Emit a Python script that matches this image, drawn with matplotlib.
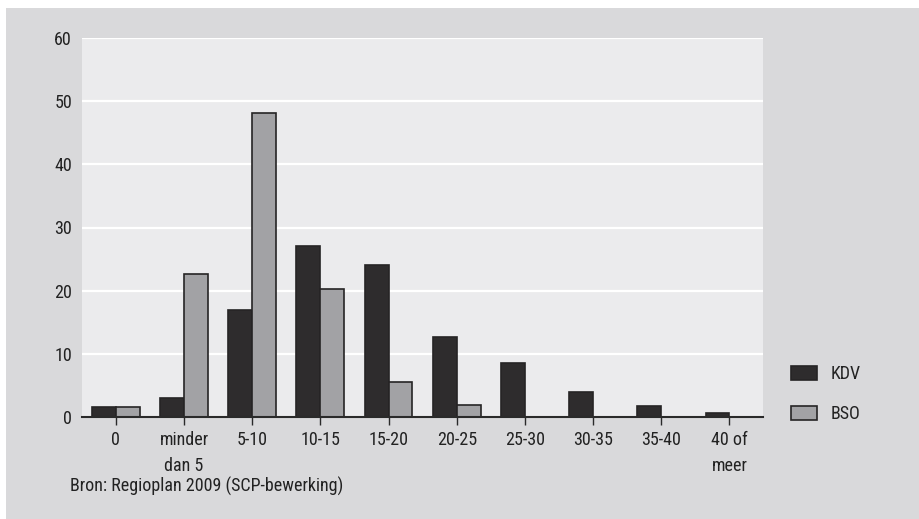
import matplotlib
matplotlib.use("Agg")
import matplotlib.pyplot as plt
from matplotlib.patches import Rectangle
import numpy as np

categories = ["0", "minder\ndan 5", "5-10", "10-15", "15-20", "20-25",
              "25-30", "30-35", "35-40", "40 of\nmeer"]
kdv = [1.6, 3.0, 16.9, 27.0, 24.0, 12.7, 8.5, 3.9, 1.7, 0.6]
bso = [1.6, 22.6, 48.2, 20.3, 5.5, 1.9, 0, 0, 0, 0]
yticks = [0, 10, 20, 30, 40, 50, 60]
source = "Bron: Regioplan 2009 (SCP-bewerking)"

FONT = ["Liberation Sans Narrow", "Roboto Condensed", "DejaVu Sans"]
plt.rcParams["font.family"] = FONT
FS = 13

W, H = 920, 519
fig = plt.figure(figsize=(W / 100, H / 100), dpi=100, facecolor="white")
# gray background panel
bg = Rectangle((6 / W, 0), 1 - 6 / W, 1 - 8 / H, transform=fig.transFigure,
               facecolor="#d9d9db", edgecolor="none", zorder=-10)
fig.patches.append(bg)

ax = fig.add_axes([81.7 / W, 102.3 / H, 681.8 / W, 378.4 / H])
ax.set_zorder(1)
ax.set_facecolor("#ebebed")

x = np.arange(len(categories))
w = 0.35
dark = "#2e2c2d"
light = "#a2a2a5"
edge = "#262425"
ax.bar(x - w / 2, kdv, w, color=dark, edgecolor=edge, linewidth=1.2, zorder=3, label="KDV")
ax.bar(x + w / 2, bso, w, color=light, edgecolor=edge, linewidth=1.2, zorder=3, label="BSO")

ax.set_xlim(-0.5, len(categories) - 0.5)
ax.set_ylim(0, 60)
ax.set_yticks(yticks)
ax.yaxis.grid(True, color="white", linewidth=1.6, zorder=1)
ax.set_axisbelow(True)
for s in ["top", "right", "left"]:
    ax.spines[s].set_visible(False)
ax.spines["bottom"].set_color("#2a2a2a")
ax.spines["bottom"].set_linewidth(1.5)
ax.spines["bottom"].set_zorder(4)

ax.set_xticks(x)
ax.set_xticklabels(categories, fontsize=FS, color="#222222", linespacing=1.55)
ax.tick_params(axis="x", length=5.5, width=1.0, color="#2a2a2a", pad=5)
ax.tick_params(axis="y", length=0, pad=7, labelsize=FS, labelcolor="#222222")

leg = fig.legend(loc="upper left", bbox_to_anchor=(775 / W, 1 - 349 / H),
                 frameon=False, fontsize=FS, handlelength=1.45, handleheight=0.8,
                 labelspacing=1.2, handletextpad=0.75)
for t in leg.get_texts():
    t.set_color("#222222")

fig.text(70 / W, 1 - 486 / H, source, fontsize=FS, color="#222222",
         ha="left", va="center")

fig.savefig("out.png", dpi=100, facecolor=fig.get_facecolor())
